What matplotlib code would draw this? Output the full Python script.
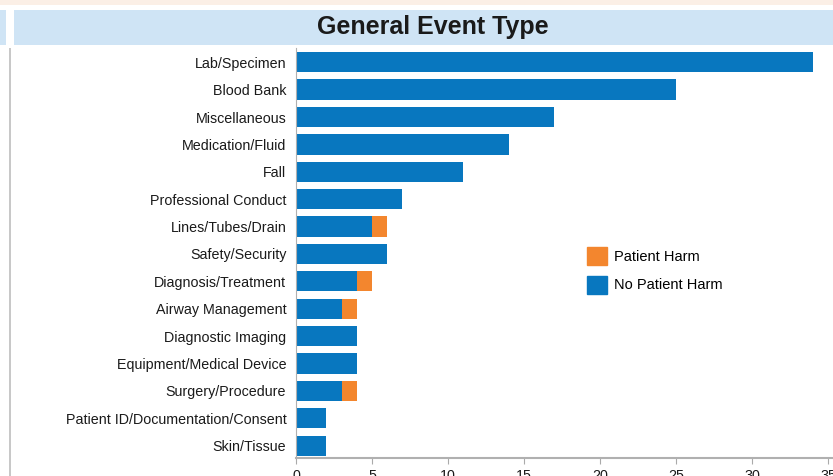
import matplotlib.pyplot as plt
from matplotlib.patches import Rectangle, Patch

categories = ["Lab/Specimen", "Blood Bank", "Miscellaneous", "Medication/Fluid", "Fall",
              "Professional Conduct", "Lines/Tubes/Drain", "Safety/Security",
              "Diagnosis/Treatment", "Airway Management", "Diagnostic Imaging",
              "Equipment/Medical Device", "Surgery/Procedure",
              "Patient ID/Documentation/Consent", "Skin/Tissue"]
no_harm = [34, 25, 17, 14, 11, 7, 5, 6, 4, 3, 4, 4, 3, 2, 2]
harm = [0, 0, 0, 0, 0, 0, 1, 0, 1, 1, 0, 0, 1, 0, 0]
xticks = [0, 5, 10, 15, 20, 25, 30, 35]

blue = "#0877bf"
orange = "#f3862e"
W, H = 833, 476

plt.rcParams['font.family'] = ['Liberation Sans', 'DejaVu Sans']

fig = plt.figure(figsize=(W / 100, H / 100), dpi=100)

# header decorations (figure pixel coords)
def px_rect(x0, y0, x1, y1, **kw):
    fig.patches.append(Rectangle((x0 / W, 1 - y1 / H), (x1 - x0) / W, (y1 - y0) / H,
                                 transform=fig.transFigure, **kw))

px_rect(0, 0, W, 5, color="#fbefe6", lw=0)
px_rect(0, 10, 6, 45, color="#cfe4f5", lw=0)
px_rect(14, 10, W, 45, color="#cfe4f5", lw=0)
px_rect(9, 48, 11, H, color="#c8c8c8", lw=0)
fig.text(433 / W, 1 - 27 / H, "General Event Type", ha="center", va="center",
         fontsize=18, fontweight="bold", color="#1a1a1a")

ax = fig.add_axes([296 / W, 1 - 458 / H, (W - 296) / W, 410 / H])
y = list(range(len(categories)))
ax.barh(y, no_harm, height=0.74, color=blue, label="No Patient Harm")
ax.barh(y, harm, left=no_harm, height=0.74, color=orange, label="Patient Harm")

ax.set_xlim(0, (W - 296) / 15.2)
ax.set_ylim(14.45, -0.52)
ax.set_yticks(y)
ax.set_yticklabels(categories)
ax.set_xticks(xticks)
ax.tick_params(axis="y", length=0, pad=7, labelsize=10.3, labelcolor="#1a1a1a")
ax.tick_params(axis="x", length=4, color="#aaaaaa", pad=4, labelsize=10.3, labelcolor="#1a1a1a")
for s in ["top", "right"]:
    ax.spines[s].set_visible(False)
ax.spines["left"].set_color("#b0b0b0")
ax.spines["bottom"].set_color("#b0b0b0")
ax.spines["bottom"].set_linewidth(1.5)

handles = [Patch(color=orange), Patch(color=blue)]
ax.legend(handles, ["Patient Harm", "No Patient Harm"], loc="upper left",
          bbox_to_anchor=((587 - 296) / (W - 296), (458 - 247) / 410), frameon=False,
          fontsize=10.5, handlelength=1.37, handleheight=1.5, handletextpad=0.5,
          labelspacing=0.75, borderpad=0, borderaxespad=0)

fig.savefig("out.png", dpi=100)
